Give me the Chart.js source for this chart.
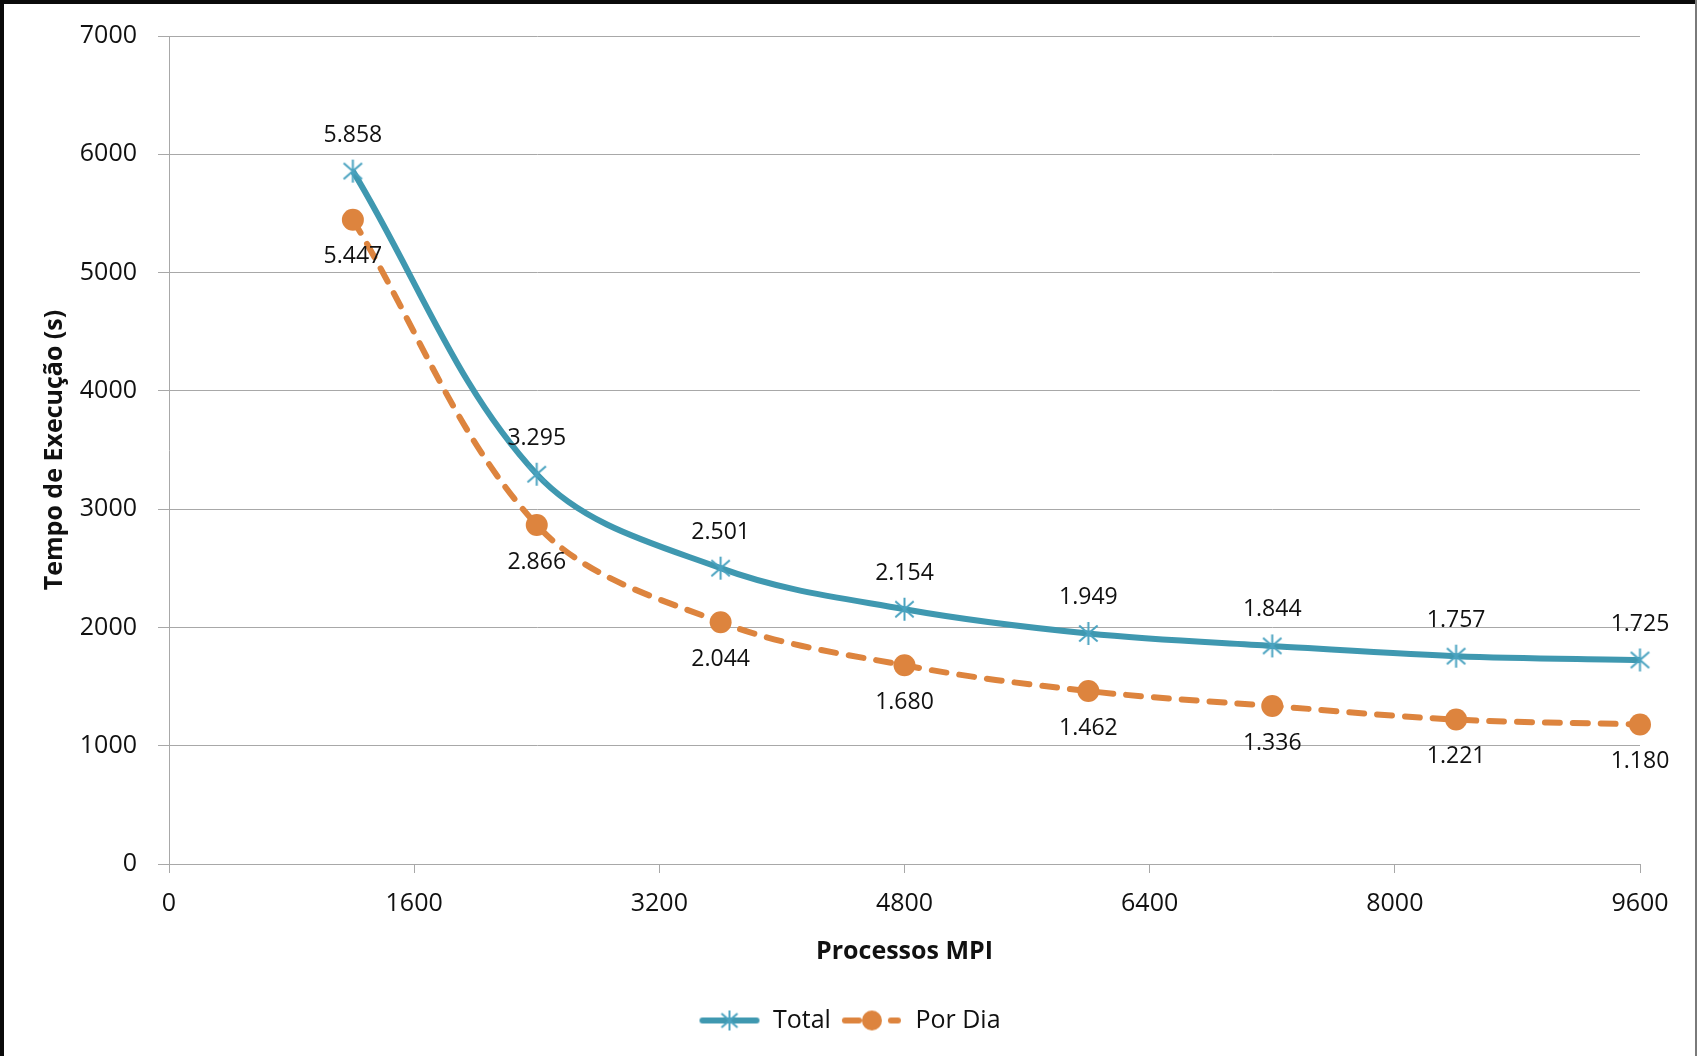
<!DOCTYPE html>
<html>
<head>
<meta charset="utf-8">
<script src="https://cdn.jsdelivr.net/npm/chart.js@4.4.1/dist/chart.umd.min.js"></script>
<style>
    html, body { margin: 0; padding: 0; background: #fff; }
    #chart { display: block; }
</style>
</head>
<body>
<canvas id="chart" width="1697" height="1056"></canvas>
<script>
const processes = [1200, 2400, 3600, 4800, 6000, 7200, 8400, 9600];
const totalTimes = [5858, 3295, 2501, 2154, 1949, 1844, 1757, 1725];
const perDayTimes = [5447, 2866, 2044, 1680, 1462, 1336, 1221, 1180];
const xTicks = [0, 1600, 3200, 4800, 6400, 8000, 9600];
const yTicks = [0, 1000, 2000, 3000, 4000, 5000, 6000, 7000];
const seriesNames = ['Total', 'Por Dia'];

const teal = '#3f98b0';
const tealMarker = '#4aa3c0';
const orange = '#dd843e';
const textColor = '#111';
const gridColor = '#a8a8a8';

Chart.defaults.font.family = "'Open Sans', sans-serif";
Chart.defaults.color = textColor;

// asterisk marker like the Excel "star" marker
function starMarker(size) {
    const c = document.createElement('canvas');
    c.width = size; c.height = size;
    const ctx = c.getContext('2d');
    const m = size / 2, r = size / 2 - 1;
    ctx.strokeStyle = tealMarker;
    ctx.lineWidth = 2;
    ctx.beginPath();
    ctx.moveTo(m, m - r); ctx.lineTo(m, m + r);
    ctx.moveTo(m - r * 0.8, m - r * 0.7); ctx.lineTo(m + r * 0.8, m + r * 0.7);
    ctx.moveTo(m + r * 0.8, m - r * 0.7); ctx.lineTo(m - r * 0.8, m + r * 0.7);
    ctx.stroke();
    return c;
}

function legendImage(which) {
    const c = document.createElement('canvas');
    c.width = 62; c.height = 26;
    const ctx = c.getContext('2d');
    ctx.lineCap = 'round';
    ctx.lineWidth = 6;
    if (which === 0) {
        ctx.strokeStyle = teal;
        ctx.beginPath(); ctx.moveTo(4, 13); ctx.lineTo(58, 13); ctx.stroke();
        ctx.drawImage(starMarker(22), 20, 2);
    } else {
        ctx.strokeStyle = orange;
        ctx.beginPath(); ctx.moveTo(4, 13); ctx.lineTo(18, 13); ctx.stroke();
        ctx.beginPath(); ctx.moveTo(50, 13); ctx.lineTo(57, 13); ctx.stroke();
        ctx.fillStyle = orange;
        ctx.beginPath(); ctx.arc(31, 13, 10, 0, Math.PI * 2); ctx.fill();
    }
    return c;
}

function fmt(v) {
    return String(v).replace(/\B(?=(\d{3})+(?!\d))/g, '.');
}

const frame = {
    id: 'frame',
    beforeDraw(chart) {
        const ctx = chart.ctx;
        ctx.save();
        ctx.fillStyle = '#fff';
        ctx.fillRect(0, 0, chart.width, chart.height);
        ctx.restore();
    },
    afterDraw(chart) {
        const ctx = chart.ctx;
        ctx.save();
        ctx.fillStyle = '#0a0a0a';
        ctx.fillRect(0, 0, chart.width, 4);
        ctx.fillRect(0, 0, 4, chart.height);
        ctx.fillStyle = '#7a7a7a';
        ctx.fillRect(chart.width - 2, 0, 2, chart.height);
        ctx.restore();
    }
};

const valueLabels = {
    id: 'valueLabels',
    afterDatasetsDraw(chart) {
        const ctx = chart.ctx;
        ctx.save();
        ctx.font = "23px 'Open Sans', sans-serif";
        ctx.fillStyle = textColor;
        ctx.textAlign = 'center';
        ctx.textBaseline = 'middle';
        chart.data.datasets.forEach((ds, i) => {
            chart.getDatasetMeta(i).data.forEach((pt, j) => {
                const dy = i === 0 ? -36 : 37;
                ctx.fillText(fmt(ds.data[j].y), pt.x, pt.y + dy);
            });
        });
        ctx.restore();
    }
};

new Chart(document.getElementById('chart'), {
    type: 'line',
    data: {
        datasets: [
            {
                label: seriesNames[0],
                data: processes.map((x, i) => ({ x: x, y: totalTimes[i] })),
                borderColor: teal,
                borderWidth: 6,
                tension: 0.35,
                pointStyle: starMarker(25),
                pointRadius: 12,
                clip: false
            },
            {
                label: seriesNames[1],
                data: processes.map((x, i) => ({ x: x, y: perDayTimes[i] })),
                borderColor: orange,
                borderWidth: 6,
                borderDash: [15, 13],
                borderCapStyle: 'round',
                tension: 0.35,
                pointStyle: 'circle',
                pointRadius: 11,
                pointBackgroundColor: orange,
                pointBorderWidth: 0,
                clip: false
            }
        ]
    },
    options: {
        responsive: false,
        animation: false,
        events: [],
        layout: { padding: { left: 4, top: 32, right: 2, bottom: 13 } },
        scales: {
            x: {
                type: 'linear',
                min: 0,
                max: 9600,
                afterBuildTicks: s => { s.ticks = xTicks.map(v => ({ value: v })); },
                afterFit: s => { s.height = 134; },
                ticks: {
                    callback: v => String(v),
                    font: { size: 25, lineHeight: 1.2 },
                    padding: 16,
                    maxRotation: 0
                },
                grid: { drawOnChartArea: false, tickLength: 9, color: gridColor },
                border: { color: gridColor },
                title: {
                    display: true,
                    text: 'Processos MPI',
                    font: { size: 25, weight: 'bold', lineHeight: 1.2 },
                    padding: { top: 0, bottom: 31 }
                }
            },
            y: {
                min: 0,
                max: 7000,
                afterBuildTicks: s => { s.ticks = yTicks.map(v => ({ value: v })); },
                afterFit: s => { s.width = 165; },
                ticks: {
                    callback: v => String(v),
                    font: { size: 25, lineHeight: 1.2 },
                    padding: 21
                },
                grid: { color: gridColor, tickLength: 11 },
                border: { color: gridColor },
                title: {
                    display: true,
                    text: 'Tempo de Execução (s)',
                    font: { size: 25, weight: 'bold', lineHeight: 1.2 },
                    padding: { top: 36, bottom: 0 }
                }
            },
            right: {
                position: 'right',
                display: true,
                afterFit: s => { s.width = 55; },
                ticks: { display: false },
                grid: { display: false },
                border: { display: false }
            }
        },
        plugins: {
            legend: {
                position: 'bottom',
                labels: {
                    usePointStyle: true,
                    pointStyleWidth: 62,
                    padding: 10,
                    font: { size: 25 },
                    color: textColor,
                    generateLabels: chart => seriesNames.map((name, i) => ({
                        text: name,
                        pointStyle: legendImage(i),
                        fillStyle: 'transparent',
                        strokeStyle: 'transparent',
                        lineWidth: 0,
                        hidden: false,
                        datasetIndex: i,
                        fontColor: textColor
                    }))
                }
            },
            tooltip: { enabled: false }
        }
    },
    plugins: [frame, valueLabels]
});
</script>
</body>
</html>
